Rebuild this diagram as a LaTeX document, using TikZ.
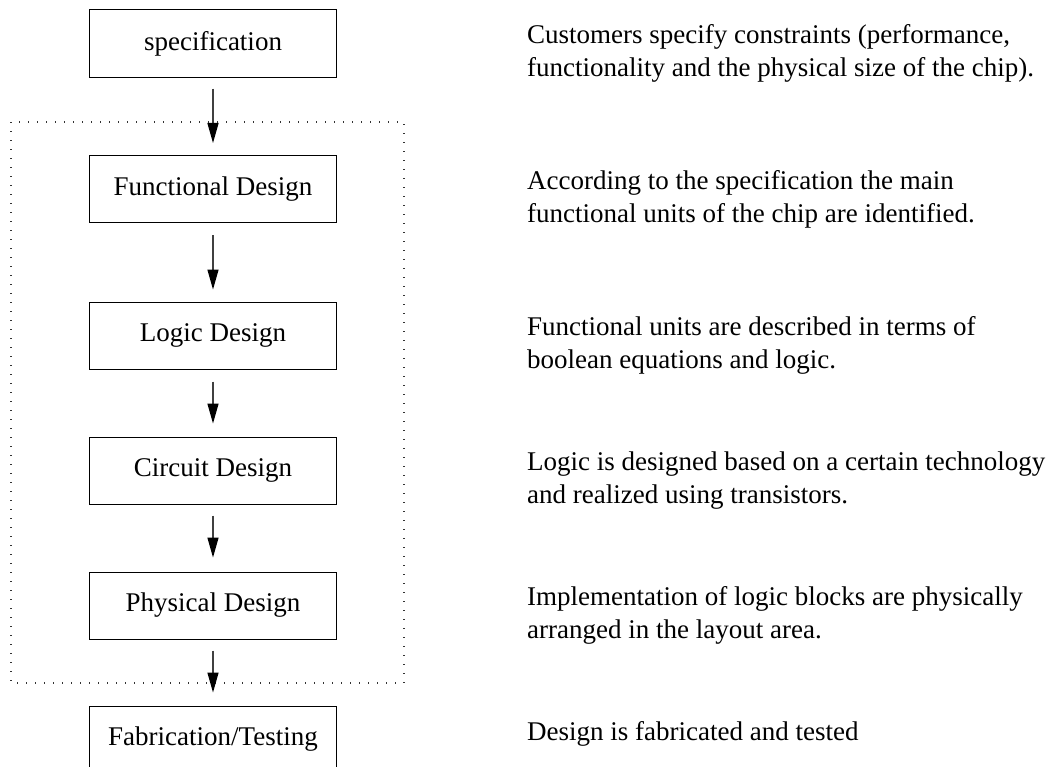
\documentclass[tikz,border=0pt]{standalone}
\usepackage{fontspec}
\setmainfont{Liberation Serif}
\usetikzlibrary{arrows.meta}
\begin{document}
\begin{tikzpicture}[x=1bp,y=-1bp,
  stagebox/.style={draw=black, line width=1bp, minimum width=247bp, minimum height=67bp, inner sep=0pt,
    font=\fontsize{27bp}{33bp}\selectfont},
  desc/.style={anchor=base west, align=left, inner sep=0pt, font=\fontsize{27bp}{33bp}\selectfont},
  flow/.style={draw=black!75, line width=1.3bp, -{Triangle[length=20bp,width=11bp,color=black,fill=black]}},
  groupbox/.style={draw=black!80, line width=1.3bp, dash pattern=on 1.3bp off 7.7bp}
]
\useasboundingbox (0,0) rectangle (1047,767);
\clip (0,0) rectangle (1047,767);

\node[stagebox] (spec) at (213,43.5) {specification};
\node[stagebox] (func) at (213,189) {Functional Design};
\node[stagebox] (logic) at (213,335.5) {Logic Design};
\node[stagebox] (circ) at (213,470.5) {Circuit Design};
\node[stagebox] (phys) at (213,605.5) {Physical Design};
\node[stagebox] (fab) at (213,739.5) {Fabrication/Testing};

\coordinate (g1) at (11,122);
\coordinate (g2) at (404,683);
\draw[groupbox] (g1) rectangle (g2);

\draw[flow] ([yshift=-11bp]spec.south) -- ([yshift=12bp]func.north);
\draw[flow] ([yshift=-12bp]func.south) -- ([yshift=12bp]logic.north);
\draw[flow] ([yshift=-12bp]logic.south) -- ([yshift=13bp]circ.north);
\draw[flow] ([yshift=-11bp]circ.south) -- ([yshift=14bp]phys.north);
\draw[flow] ([yshift=-11bp]phys.south) -- ([yshift=13bp]fab.north);

\node[desc] (tspec) at (527,77) {Customers specify constraints (performance,\\functionality and the physical size of the chip).};
\node[desc] (tfunc) at (527,222.5) {According to the specification the main\\functional units of the chip are identified.};
\node[desc] (tlogic) at (527,368.5) {Functional units are described in terms of\\boolean equations and logic.};
\node[desc] (tcirc) at (527,503.5) {Logic is designed based on a certain technology\\and realized using transistors.};
\node[desc] (tphys) at (527,638.5) {Implementation of logic blocks are physically\\arranged in the layout area.};
\node[desc] (tfab) at (527,740) {Design is fabricated and tested};
\end{tikzpicture}
\end{document}
